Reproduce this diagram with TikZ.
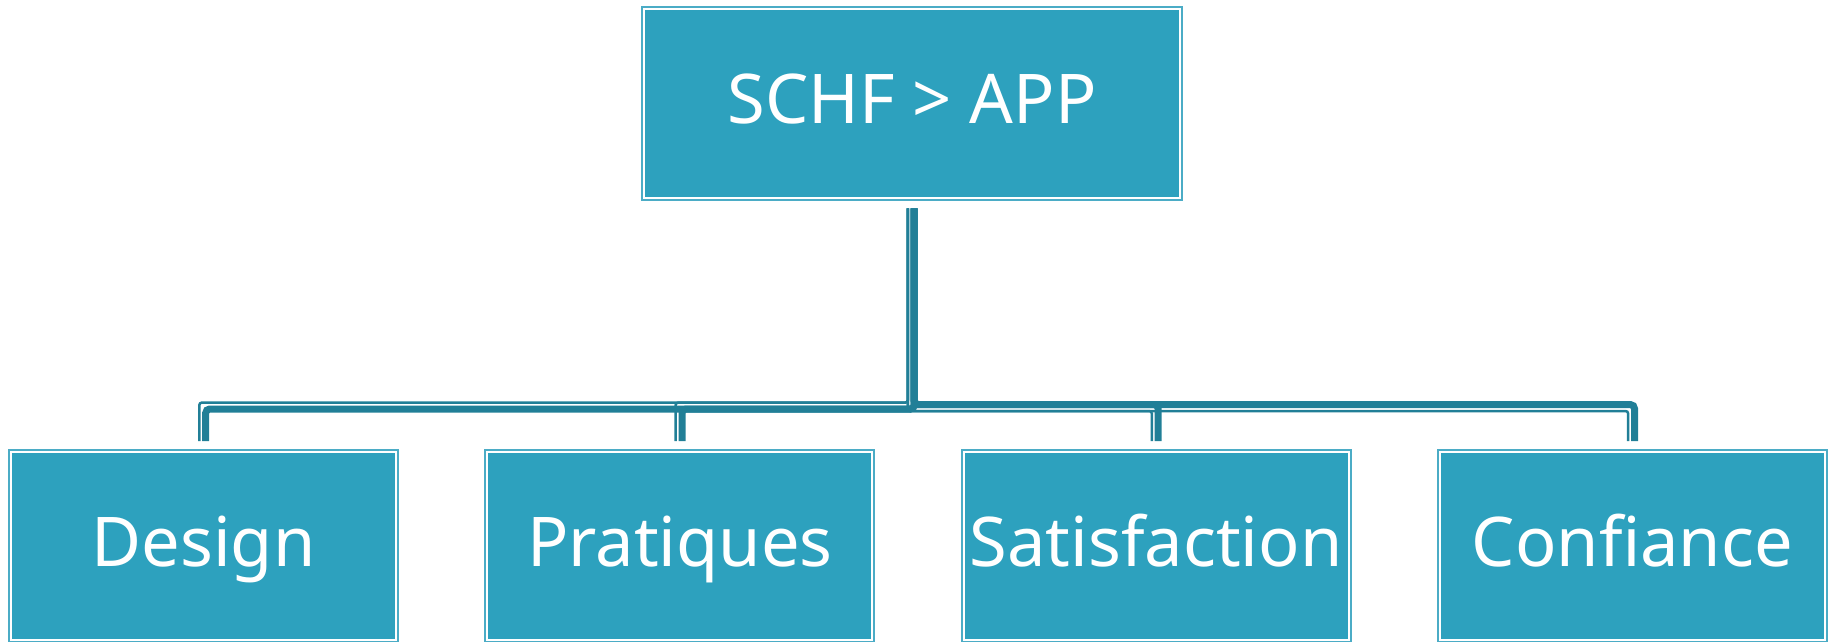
\documentclass[tikz,border=0pt]{standalone}
\usepackage{fontspec}
\setmainfont{Noto Sans}
\usetikzlibrary{calc}
\definecolor{fillc}{HTML}{2DA1BE}
\definecolor{edgec}{HTML}{4BACC6}
\definecolor{connc}{HTML}{217F97}
\tikzset{
  box/.style={rectangle, fill=fillc, draw=white, line width=2pt,
    preaction={draw=edgec, line width=6pt},
    minimum width=385pt, minimum height=188pt, inner sep=0pt,
    text=white, font=\fontsize{68.6}{80}\selectfont,
    text height=49pt, text depth=8pt},
  thinconn/.style={draw=connc, line width=2.5pt, rounded corners=2.5pt},
  thickconn/.style={draw=connc, line width=7pt, rounded corners=4pt}
}
% #1 child node, #2 y-offset of thin line, #3 y-offset of thick line
\newcommand\myconn[3]{%
  \draw[thinconn] ($(top.south)+(-4.2,9.6)$) -- ($(top.south|-bus)+(-4.2,#2)$)
     -- ($(#1.north|-bus)+(-4.2,#2)$) -- ($(#1.north)+(-4.2,-10.3)$);
  \draw[thickconn] ($(top.south)+(2.2,9.6)$) -- ($(top.south|-bus)+(2.2,#3)$)
     -- ($(#1.north|-bus)+(2.2,#3)$) -- ($(#1.north)+(2.2,-10.3)$);
}
\begin{document}
\begin{tikzpicture}[x=1pt,y=-1pt]
\useasboundingbox (0,0) rectangle (1831,641);
\node[box, minimum width=536pt, minimum height=188.7pt] (top) at (912,103.35) {SCHF > APP};
\node[box] (design) at (203.5,546.3) {Design};
\node[box] (pratiques) at (679.8,546.3) {Pratiques};
\node[box] (satisfaction) at (1156,546.3) {Satisfaction};
\node[box] (confiance) at (1632.3,546.3) {Confiance};
\coordinate (bus) at (912,406.8);
\myconn{design}{-4.2}{2.2}
\myconn{pratiques}{-4.2}{2.2}
\myconn{satisfaction}{4.2}{-2.2}
\myconn{confiance}{4.2}{-2.2}
\end{tikzpicture}
\end{document}
